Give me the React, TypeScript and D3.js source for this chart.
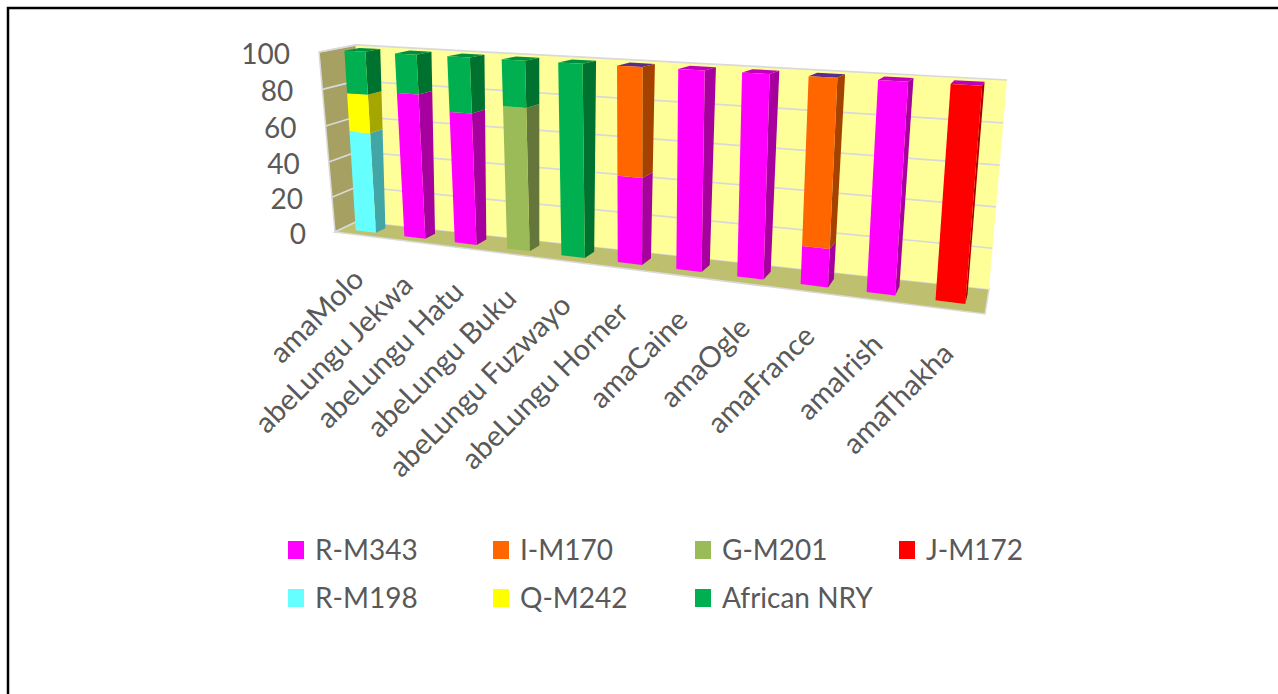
import React from "react";
import * as d3 from "d3";

const categories = ["amaMolo", "abeLungu Jekwa", "abeLungu Hatu", "abeLungu Buku", "abeLungu Fuzwayo", "abeLungu Horner", "amaCaine", "amaOgle", "amaFrance", "amaIrish", "amaThakha"];
const seriesNames = ["R-M343", "I-M170", "G-M201", "J-M172", "R-M198", "Q-M242", "African NRY"];
const seriesColors = ["#FF00FF", "#FF6600", "#9BBB59", "#FF0000", "#66FFFF", "#FFFF00", "#00B050"];
const sideColors = ["#A6009E", "#A64200", "#64763A", "#A60000", "#42A6A6", "#A6A600", "#00722F"];
const rM343 = [0, 79, 71, 0, 0, 45, 100, 100, 19, 100, 0];
const iM170 = [0, 0, 0, 0, 0, 55, 0, 0, 81, 0, 0];
const gM201 = [0, 0, 0, 76, 0, 0, 0, 0, 0, 0, 0];
const jM172 = [0, 0, 0, 0, 0, 0, 0, 0, 0, 0, 100];
const rM198 = [56, 0, 0, 0, 0, 0, 0, 0, 0, 0, 0];
const qM242 = [21, 0, 0, 0, 0, 0, 0, 0, 0, 0, 0];
const african = [23, 21, 29, 24, 100, 0, 0, 0, 0, 0, 0];
const seriesValues = [rM343, iM170, gM201, jM172, rM198, qM242, african];
const topColors = ["#008F40", "#008F40", "#008F40", "#008F40", "#008F40", "#5B2C8C", "#C000BC", "#C000BC", "#5B2C8C", "#C000BC", "#C000BC"];
const yTicks = [0, 20, 40, 60, 80, 100];

type Pt = [number, number];
// corners: (u0,v0),(u1,v0),(u1,v1),(u0,v1)
function homography(q: Pt[]) {
  const [[x0, y0], [x1, y1], [x2, y2], [x3, y3]] = q;
  const dx1 = x1 - x2, dx2 = x3 - x2, sx = x0 - x1 + x2 - x3;
  const dy1 = y1 - y2, dy2 = y3 - y2, sy = y0 - y1 + y2 - y3;
  const den = dx1 * dy2 - dx2 * dy1;
  const g = (sx * dy2 - dx2 * sy) / den;
  const h = (dx1 * sy - sx * dy1) / den;
  const a = x1 - x0 + g * x1, b = x3 - x0 + h * x3;
  const d = y1 - y0 + g * y1, e = y3 - y0 + h * y3;
  return (u: number, v: number): Pt => {
    const w = g * u + h * v + 1;
    return [(a * u + b * v + x0) / w, (d * u + e * v + y0) / w];
  };
}
const frontPlane = homography([[335, 232], [985, 314], [1003, 90], [319, 52]]);
const backPlane = homography([[358, 221], [989, 289], [1007, 80], [356, 45]]);
const proj = (u: number, v: number, w: number): Pt => {
  const f = frontPlane(u, v), b = backPlane(u, v);
  return [f[0] + (b[0] - f[0]) * w, f[1] + (b[1] - f[1]) * w];
};
const uScale = d3.scaleBand<string>().domain(categories).range([0, 1]).paddingInner(0.58).paddingOuter(0.29);
const vScale = d3.scaleLinear().domain([0, 100]).range([0, 1]);
const W_FRONT = 0.3, W_BACK = 0.7;
const poly = (pts: Pt[]) => (d3.line()(pts) as string) + "Z";
const FONT = "Lato, 'Open Sans', sans-serif";
const TEXT = "#595959";
const GRID = "#D9D9D9";

const legendRows = [[0, 1, 2, 3], [4, 5, 6]];
const legendX = [288, 493, 695, 899];
const legendY = [550, 598];

export default function App() {
  const stacks = categories.map((_, i) => {
    let acc = 0;
    return seriesValues.map((s, k) => {
      const seg = { k, y0: acc, y1: acc + s[i] };
      acc += s[i];
      return seg;
    }).filter((seg) => seg.y1 > seg.y0);
  });
  return (
    <svg width={1278} height={694} style={{ position: "absolute", left: 0, top: 0, background: "#fff" }}>
      <path d="M8 694V8H1278" fill="none" stroke="#000" strokeWidth={2.5} />
      {/* walls */}
      <path d={poly([proj(0, 0, 0), proj(0, 1, 0), proj(0, 1, 1), proj(0, 0, 1)])} fill="#A6A163" stroke={GRID} strokeWidth={1.5} />
      <path d={poly([proj(0, 0, 0), proj(1, 0, 0), proj(1, 0, 1), proj(0, 0, 1)])} fill="#BFBF70" stroke={GRID} strokeWidth={1.5} />
      <path d={poly([proj(0, 0, 1), proj(1, 0, 1), proj(1, 1, 1), proj(0, 1, 1)])} fill="#FFFF99" />
      {yTicks.map((t) => {
        const v = vScale(t);
        return (
          <path key={t} d={d3.line()([proj(0, v, 0), proj(0, v, 1), proj(1, v, 1)]) as string}
            fill="none" stroke={GRID} strokeWidth={t === 0 ? 0 : 1.75} />
        );
      })}
      {/* bars */}
      {categories.map((c, i) => {
        const u0 = uScale(c) as number, u1 = u0 + uScale.bandwidth();
        const segs = stacks[i];
        const top = vScale(segs[segs.length - 1].y1);
        return (
          <g key={c}>
            <path d={poly([proj(u0, top, W_FRONT), proj(u1, top, W_FRONT), proj(u1, top, W_BACK), proj(u0, top, W_BACK)])} fill={topColors[i]} />
            {segs.map((s) => {
              const a = vScale(s.y0), b = vScale(s.y1);
              return (
                <g key={s.k}>
                  <path d={poly([proj(u1, a, W_FRONT), proj(u1, a, W_BACK), proj(u1, b, W_BACK), proj(u1, b, W_FRONT)])} fill={sideColors[s.k]} />
                  <path d={poly([proj(u0, a, W_FRONT), proj(u1, a, W_FRONT), proj(u1, b, W_FRONT), proj(u0, b, W_FRONT)])} fill={seriesColors[s.k]} />
                </g>
              );
            })}
          </g>
        );
      })}
      {/* value axis */}
      {yTicks.map((t) => {
        const p = proj(0, vScale(t), 0);
        return (
          <text key={t} x={p[0] - 29} y={p[1] + 12} textAnchor="end" fontFamily={FONT} fontSize={28} fill={TEXT}>{t}</text>
        );
      })}
      {/* category axis */}
      {categories.map((c) => {
        const p = proj((uScale(c) as number) + uScale.bandwidth() / 2, 0, 0);
        return (
          <text key={c} transform={`translate(${p[0] + 7},${p[1] + 46}) rotate(-45)`} textAnchor="end"
            fontFamily={FONT} fontSize={29} fill={TEXT}>{c}</text>
        );
      })}
      {/* legend */}
      {legendRows.map((row, r) => row.map((k, j) => (
        <g key={k}>
          <rect x={legendX[j]} y={legendY[r] - 9} width={16} height={18} fill={seriesColors[k]} />
          <text x={legendX[j] + 27} y={legendY[r] + 10} fontFamily={FONT} fontSize={28} fill={TEXT}>{seriesNames[k]}</text>
        </g>
      )))}
    </svg>
  );
}
